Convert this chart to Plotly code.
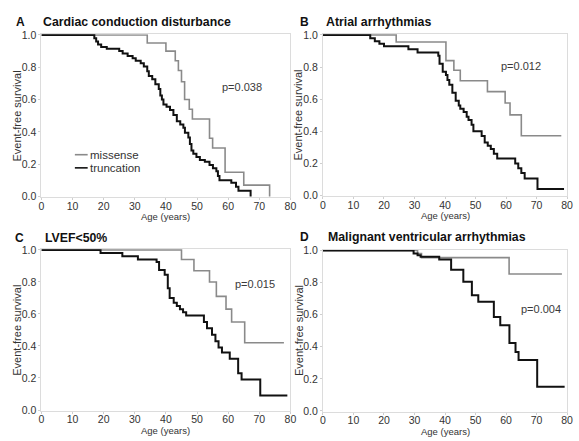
import plotly.graph_objects as go

# ---------------- data ----------------
panel_labels = ["A", "B", "C", "D"]
panel_titles = ["Cardiac conduction disturbance", "Atrial arrhythmias",
                "LVEF<50%", "Malignant ventricular arrhythmias"]
p_values = ["p=0.038", "p=0.012", "p=0.015", "p=0.004"]
legend_labels = ["missense", "truncation"]
x_ticks = [0, 10, 20, 30, 40, 50, 60, 70, 80]
y_ticks = [0.0, 0.2, 0.4, 0.6, 0.8, 1.0]

A_mis_t = [0, 34, 40, 43, 44, 45, 46, 47.5, 48.5, 54, 55, 59, 65, 73.3]
A_mis_s = [1.0, 0.95, 0.90, 0.84, 0.78, 0.71, 0.60, 0.54, 0.48, 0.36, 0.30, 0.15, 0.07, 0.0]
A_tru_t = [0, 17, 17.6, 18.2, 19.2, 21, 25, 26.1, 27.7, 29.3, 30.3, 31.9, 32.9, 34, 34.5,
           35.6, 36.6, 37.7, 38.2, 38.7, 39.2, 40.2, 41.3, 42.4, 43.5, 44.6, 45.6, 46.1,
           47.2, 47.7, 48.2, 48.8, 49.8, 50.9, 52.5, 54.0, 55.1, 56.2, 56.7, 57.2, 61,
           62.5, 63.3, 67.2]
A_tru_s = [1, 0.98, 0.96, 0.94, 0.925, 0.915, 0.90, 0.885, 0.87, 0.855, 0.84, 0.825, 0.805,
           0.775, 0.745, 0.725, 0.695, 0.665, 0.625, 0.60, 0.57, 0.555, 0.535, 0.505, 0.465,
           0.445, 0.425, 0.395, 0.365, 0.325, 0.285, 0.265, 0.245, 0.225, 0.215, 0.195,
           0.175, 0.156, 0.126, 0.10, 0.085, 0.06, 0.035, 0.0]

B_mis_t = [0, 24, 40.3, 42.9, 45, 53.9, 59.7, 61.3, 65, 78.1]
B_mis_s = [1, 0.956, 0.84, 0.78, 0.715, 0.647, 0.576, 0.502, 0.372, 0.372]
B_tru_t = [0, 15.5, 17, 18.5, 20, 28, 31, 37.8, 38.2, 39.25, 40.3, 40.8, 41.4, 42.4, 43.5,
           44.5, 45, 46.1, 47.1, 47.7, 48.7, 49.3, 52, 53, 54, 55, 56, 57.1, 63, 64, 65,
           66.1, 70.3, 79]
B_tru_s = [1, 0.98, 0.96, 0.945, 0.93, 0.91, 0.89, 0.87, 0.82, 0.77, 0.75, 0.72, 0.69, 0.64,
           0.59, 0.56, 0.54, 0.52, 0.49, 0.47, 0.44, 0.40, 0.37, 0.33, 0.31, 0.29, 0.26,
           0.23, 0.20, 0.17, 0.14, 0.106, 0.04, 0.04]

C_mis_t = [0, 45, 49, 54, 56.2, 59.3, 61.1, 65.3, 77.9]
C_mis_s = [1, 0.94, 0.87, 0.80, 0.71, 0.63, 0.55, 0.42, 0.42]
C_tru_t = [0, 19, 26, 31, 37, 37.8, 39.6, 40.6, 41.2, 42.5, 43.5, 44.5, 45.5, 46.5, 52.2,
           53.2, 54.8, 55.9, 56.9, 58, 60.5, 63.2, 64.3, 70.3, 79]
C_tru_s = [1, 0.98, 0.96, 0.94, 0.925, 0.875, 0.845, 0.76, 0.70, 0.67, 0.65, 0.63, 0.61,
           0.59, 0.55, 0.51, 0.47, 0.43, 0.39, 0.36, 0.32, 0.23, 0.19, 0.09, 0.09]

D_mis_t = [0, 31, 32.3, 61, 78.3]
D_mis_s = [1, 0.98, 0.955, 0.853, 0.853]
D_tru_t = [0, 29.7, 31, 32, 38.1, 42, 46, 48.8, 50.9, 56, 58.1, 61.1, 63.1, 64.1, 70.2, 79.2]
D_tru_s = [1, 0.98, 0.97, 0.96, 0.944, 0.88, 0.805, 0.72, 0.68, 0.586, 0.534, 0.424, 0.367,
           0.317, 0.151, 0.151]

series = [
    (A_mis_t, A_mis_s, A_tru_t, A_tru_s),
    (B_mis_t, B_mis_s, B_tru_t, B_tru_s),
    (C_mis_t, C_mis_s, C_tru_t, C_tru_s),
    (D_mis_t, D_mis_s, D_tru_t, D_tru_s),
]

# ---------------- layout ----------------
W, H = 579, 441
FONT = "Arial, Liberation Sans, Helvetica, sans-serif"
MIS_COLOR = "#8a8a8a"
TRU_COLOR = "#111111"

# plot areas in pixels: (x0, x1, ytop, ybottom)
boxes = [(39, 292, 29, 196), (325, 573, 29, 195),
         (39, 292, 249.5, 415), (325, 573, 250, 416)]
title_pos = [(18, 40, 16.5), (306, 327, 16.5), (17, 42, 238), (306, 329, 237)]
p_pos = [(243, 83), (526, 62), (256, 285), (546, 311)]

fig = go.Figure()
annotations = []

for i, (mt, ms, tt, ts) in enumerate(series):
    n = "" if i == 0 else str(i + 1)
    x0, x1, yt, yb = boxes[i]
    fig.add_trace(go.Scatter(x=mt, y=ms, mode="lines", line_shape="hv",
                             line=dict(color=MIS_COLOR, width=1.6),
                             xaxis="x" + n, yaxis="y" + n, showlegend=False,
                             name=legend_labels[0]))
    fig.add_trace(go.Scatter(x=tt, y=ts, mode="lines", line_shape="hv",
                             line=dict(color=TRU_COLOR, width=2),
                             xaxis="x" + n, yaxis="y" + n, showlegend=False,
                             name=legend_labels[1]))
    common = dict(showgrid=False, zeroline=False, showline=True, mirror=True,
                  linecolor="#dcdcdc", linewidth=1, ticks="outside", ticklen=2,
                  tickcolor="#cfcfcf", tickfont=dict(family=FONT, size=10.5, color="#333"))
    fig.update_layout(**{
        "xaxis" + n: dict(domain=[x0 / W, x1 / W], range=[0, 80], tickvals=x_ticks,
                          anchor="y" + n, ticklabelstandoff=-3, **common),
        "yaxis" + n: dict(domain=[1 - yb / H, 1 - yt / H], range=[-0.004, 1.004],
                          tickvals=y_ticks, tickformat=".1f", anchor="x" + n, **common),
    })
    # panel letter and title
    lx, tx, ty = title_pos[i]
    annotations.append(dict(x=lx / W, y=1 - ty / H, xref="paper", yref="paper",
                            text="<b>%s</b>" % panel_labels[i], showarrow=False,
                            xanchor="center", yanchor="middle", borderpad=0,
                            font=dict(family=FONT, size=12, color="#111")))
    annotations.append(dict(x=tx / W, y=1 - ty / H, xref="paper", yref="paper",
                            text="<b>%s</b>" % panel_titles[i], showarrow=False,
                            xanchor="left", yanchor="middle", borderpad=0,
                            font=dict(family=FONT, size=12.3, color="#111")))
    # p-value
    px, py = p_pos[i]
    annotations.append(dict(x=px / W, y=1 - py / H, xref="paper", yref="paper",
                            text=p_values[i], showarrow=False,
                            xanchor="center", yanchor="middle",
                            font=dict(family=FONT, size=11, color="#3a3a3a")))
    # axis titles
    annotations.append(dict(x=(x0 + x1) / 2 / W, y=1 - (yb + 20) / H,
                            xref="paper", yref="paper", text="Age (years)",
                            showarrow=False, xanchor="center", yanchor="middle",
                            font=dict(family=FONT, size=9.5, color="#333")))
    annotations.append(dict(x=(x0 - 25) / W, y=1 - (yt + yb) / 2 / H,
                            xref="paper", yref="paper", text="Event-free survival",
                            showarrow=False, xanchor="center", yanchor="middle",
                            textangle=-90,
                            font=dict(family=FONT, size=11, color="#333")))

# legend in panel A (drawn as shapes + text)
legend_styles = [(MIS_COLOR, 152.5), (TRU_COLOR, 166)]
shapes = []
for label, (col, ly) in zip(legend_labels, legend_styles):
    shapes.append(dict(type="line", xref="paper", yref="paper",
                       x0=73 / W, x1=86 / W, y0=1 - ly / H, y1=1 - ly / H,
                       line=dict(color=col, width=1.6)))
    annotations.append(dict(x=87 / W, y=1 - ly / H, xref="paper", yref="paper",
                            text=label, showarrow=False, xanchor="left",
                            yanchor="middle", borderpad=0,
                            font=dict(family=FONT, size=11.5, color="#333")))

fig.update_layout(width=W, height=H, margin=dict(l=0, r=0, t=0, b=0),
                  paper_bgcolor="white", plot_bgcolor="white",
                  annotations=annotations, shapes=shapes)

fig.write_html("out.html",
               config={"displayModeBar": False},
               post_script="document.body.style.margin='0';"
                           "document.body.style.overflow='hidden';")
